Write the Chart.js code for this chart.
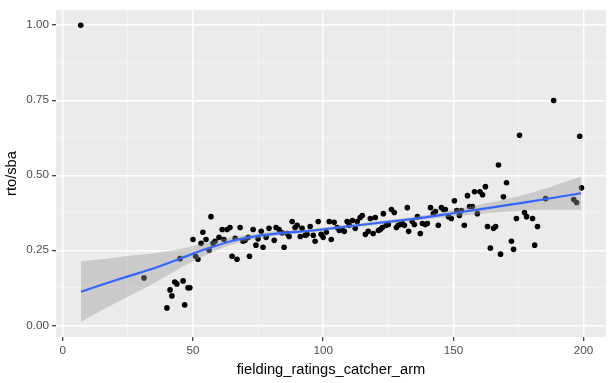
<!DOCTYPE html>
<html>
<head>
<meta charset="utf-8">
<script src="https://cdn.jsdelivr.net/npm/chart.js@4/dist/chart.umd.min.js"></script>
<style>
  html, body { margin: 0; padding: 0; background: #fff; }
  #wrap { width: 614px; height: 383px; }
</style>
</head>
<body>
<div id="wrap"><canvas id="chartArm"></canvas></div>
<script>
// catcher arm rating vs runners thrown out / stolen base attempts
var armRating = [
    6.9, 31.2, 40.0, 41.2, 41.9, 43.0, 43.8, 45.0, 46.2, 46.8,
    48.1, 48.8, 50.0, 51.0, 51.9, 53.1, 53.8, 55.0, 56.2, 56.9,
    57.7, 58.5, 60.0, 61.2, 61.9, 63.1, 64.2, 65.0, 66.2, 66.9,
    68.1, 69.2, 70.0, 71.2, 71.7, 73.1, 74.2, 75.0, 76.2, 76.9,
    78.1, 79.2, 81.2, 81.9, 83.1, 84.2, 85.0, 86.2, 86.9, 88.1,
    89.2, 90.0, 91.2, 91.9, 93.1, 93.8, 95.0, 96.2, 96.9, 98.1,
    99.2, 100.0, 101.2, 102.3, 103.1, 104.2, 105.4, 106.2, 107.3, 108.1,
    109.2, 110.0, 111.2, 112.3, 113.1, 114.2, 115.0, 116.2, 117.3, 118.1,
    119.2, 120.0, 121.2, 121.9, 122.7, 123.1, 124.2, 125.0, 126.2, 127.3,
    128.1, 128.8, 129.6, 130.4, 131.2, 132.3, 132.8, 134.2, 135.0, 136.2,
    137.3, 138.1, 139.2, 140.0, 141.2, 142.3, 143.1, 144.2, 145.4, 146.2,
    146.9, 148.1, 149.2, 150.4, 151.3, 152.3, 153.1, 154.2, 155.4, 156.2,
    157.3, 158.1, 159.2, 160.2, 161.2, 162.3, 163.1, 164.2, 165.4, 166.2,
    167.3, 168.1, 169.2, 170.4, 172.3, 173.1, 174.2, 175.4, 177.3, 178.1,
    180.4, 181.2, 182.3, 185.4, 188.5, 196.2, 197.3, 198.5, 199.2
];
var rtoPerSba = [
    1.000, 0.158, 0.058, 0.118, 0.098, 0.144, 0.138, 0.222, 0.148, 0.068,
    0.125, 0.125, 0.286, 0.230, 0.220, 0.273, 0.310, 0.286, 0.250, 0.362,
    0.273, 0.280, 0.293, 0.319, 0.286, 0.319, 0.326, 0.230, 0.290, 0.220,
    0.326, 0.280, 0.283, 0.293, 0.230, 0.319, 0.267, 0.288, 0.313, 0.260,
    0.293, 0.323, 0.283, 0.326, 0.319, 0.308, 0.260, 0.306, 0.296, 0.346,
    0.326, 0.333, 0.296, 0.323, 0.300, 0.303, 0.329, 0.300, 0.280, 0.346,
    0.303, 0.293, 0.310, 0.346, 0.286, 0.343, 0.326, 0.316, 0.319, 0.313,
    0.346, 0.333, 0.349, 0.323, 0.346, 0.359, 0.366, 0.303, 0.313, 0.356,
    0.306, 0.359, 0.316, 0.319, 0.326, 0.372, 0.333, 0.336, 0.386, 0.376,
    0.326, 0.333, 0.336, 0.339, 0.333, 0.392, 0.313, 0.346, 0.336, 0.362,
    0.306, 0.339, 0.336, 0.339, 0.392, 0.372, 0.379, 0.333, 0.392, 0.386,
    0.386, 0.362, 0.356, 0.415, 0.382, 0.366, 0.382, 0.333, 0.432, 0.396,
    0.396, 0.445, 0.372, 0.445, 0.435, 0.462, 0.329, 0.257, 0.323, 0.329,
    0.534, 0.237, 0.428, 0.475, 0.280, 0.253, 0.356, 0.633, 0.376, 0.362,
    0.356, 0.267, 0.329, 0.422, 0.749, 0.419, 0.409, 0.630, 0.458
];

// smoother (loess) and its confidence band
var fitX    = [7, 15, 25, 35, 45, 55, 65, 75, 85, 95, 105, 115, 125, 135, 145, 155, 165, 175, 185, 199];
var fitY    = [0.112, 0.135, 0.163, 0.190, 0.222, 0.254, 0.281, 0.298, 0.308, 0.315, 0.325, 0.335, 0.345, 0.355, 0.367, 0.380, 0.393, 0.406, 0.420, 0.440];
var fitLow  = [0.011, 0.050, 0.095, 0.140, 0.190, 0.234, 0.269, 0.289, 0.301, 0.309, 0.319, 0.329, 0.339, 0.348, 0.358, 0.367, 0.375, 0.382, 0.385, 0.385];
var fitHigh = [0.214, 0.220, 0.231, 0.240, 0.254, 0.274, 0.293, 0.307, 0.315, 0.321, 0.331, 0.341, 0.351, 0.362, 0.376, 0.393, 0.411, 0.430, 0.455, 0.496];

var xTickValues = [0, 25, 50, 75, 100, 125, 150, 175, 200];
var yTickValues = [0, 0.125, 0.25, 0.375, 0.5, 0.625, 0.75, 0.875, 1];

function pairs(xs, ys) {
    var out = [];
    for (var i = 0; i < xs.length; i++) out.push({ x: xs[i], y: ys[i] });
    return out;
}
function isMajorX(v) { return v % 50 === 0; }
function isMajorY(v) { return Math.abs(v * 4 - Math.round(v * 4)) < 1e-9; }

var panelBg = {
    id: 'panelBg',
    beforeDraw: function (chart) {
        var a = chart.chartArea, c = chart.ctx;
        c.save();
        c.fillStyle = '#EBEBEB';
        c.fillRect(a.left, a.top, a.right - a.left, a.bottom - a.top);
        c.restore();
    }
};

var tickFont = { family: '"Liberation Sans", Arial, sans-serif', size: 11.7 };
var titleFont = { family: '"Liberation Sans", Arial, sans-serif', size: 14.7 };

const chartArm = document.getElementById('chartArm');
new Chart(chartArm, {
    type: 'scatter',
    data: {
        datasets: [
            {
                type: 'line',
                label: 'fit',
                data: pairs(fitX, fitY),
                borderColor: '#3366FF',
                borderWidth: 2.2,
                pointRadius: 0,
                fill: false,
                tension: 0.3,
                order: 1
            },
            {
                type: 'line',
                label: 'upper',
                data: pairs(fitX, fitHigh),
                borderWidth: 0,
                borderColor: 'rgba(0,0,0,0)',
                backgroundColor: 'rgba(153,153,153,0.4)',
                pointRadius: 0,
                fill: '+1',
                tension: 0.3,
                order: 2
            },
            {
                type: 'line',
                label: 'lower',
                data: pairs(fitX, fitLow),
                borderWidth: 0,
                borderColor: 'rgba(0,0,0,0)',
                pointRadius: 0,
                fill: false,
                tension: 0.3,
                order: 2
            },
            {
                label: 'rto/sba',
                data: pairs(armRating, rtoPerSba),
                backgroundColor: '#000000',
                borderWidth: 0,
                pointRadius: 2.8,
                pointHoverRadius: 2.8,
                order: 3
            }
        ]
    },
    options: {
        responsive: true,
        maintainAspectRatio: false,
        animation: false,
        layout: { padding: { top: 7, right: 8, left: 0, bottom: 0 } },
        plugins: {
            legend: { display: false },
            tooltip: { enabled: false }
        },
        scales: {
            x: {
                type: 'linear',
                min: -2.6,
                max: 208.6,
                afterBuildTicks: function (s) { s.ticks = xTickValues.map(function (v) { return { value: v }; }); },
                afterFit: function (s) { s.height = 46; },
                border: { display: false },
                grid: {
                    color: function (ctx) { return ctx.tick && isMajorX(ctx.tick.value) ? '#FFFFFF' : '#F7F7F7'; },
                    lineWidth: function (ctx) { return ctx.tick && isMajorX(ctx.tick.value) ? 1.4 : 0.7; },
                    tickColor: function (ctx) { return ctx.tick && isMajorX(ctx.tick.value) ? '#333333' : 'rgba(0,0,0,0)'; },
                    tickWidth: 1.2,
                    tickLength: 4
                },
                ticks: {
                    autoSkip: false,
                    maxRotation: 0,
                    padding: 3,
                    color: '#4D4D4D',
                    font: tickFont,
                    callback: function (v) { return isMajorX(v) ? String(v) : ''; }
                },
                title: {
                    display: true,
                    text: 'fielding_ratings_catcher_arm',
                    color: '#000000',
                    font: titleFont,
                    padding: { top: 0, bottom: 4 }
                }
            },
            y: {
                type: 'linear',
                min: -0.039,
                max: 1.0505,
                afterBuildTicks: function (s) { s.ticks = yTickValues.map(function (v) { return { value: v }; }); },
                afterFit: function (s) { s.width = 56; },
                border: { display: false },
                grid: {
                    color: function (ctx) { return ctx.tick && isMajorY(ctx.tick.value) ? '#FFFFFF' : '#F7F7F7'; },
                    lineWidth: function (ctx) { return ctx.tick && isMajorY(ctx.tick.value) ? 1.4 : 0.7; },
                    tickColor: function (ctx) { return ctx.tick && isMajorY(ctx.tick.value) ? '#333333' : 'rgba(0,0,0,0)'; },
                    tickWidth: 1.2,
                    tickLength: 4
                },
                ticks: {
                    autoSkip: false,
                    padding: 3,
                    color: '#4D4D4D',
                    font: tickFont,
                    callback: function (v) { return isMajorY(v) ? v.toFixed(2) : ''; }
                },
                title: {
                    display: true,
                    text: 'rto/sba',
                    color: '#000000',
                    font: titleFont,
                    padding: { top: 3, bottom: 0 }
                }
            }
        }
    },
    plugins: [panelBg]
});
</script>
</body>
</html>
